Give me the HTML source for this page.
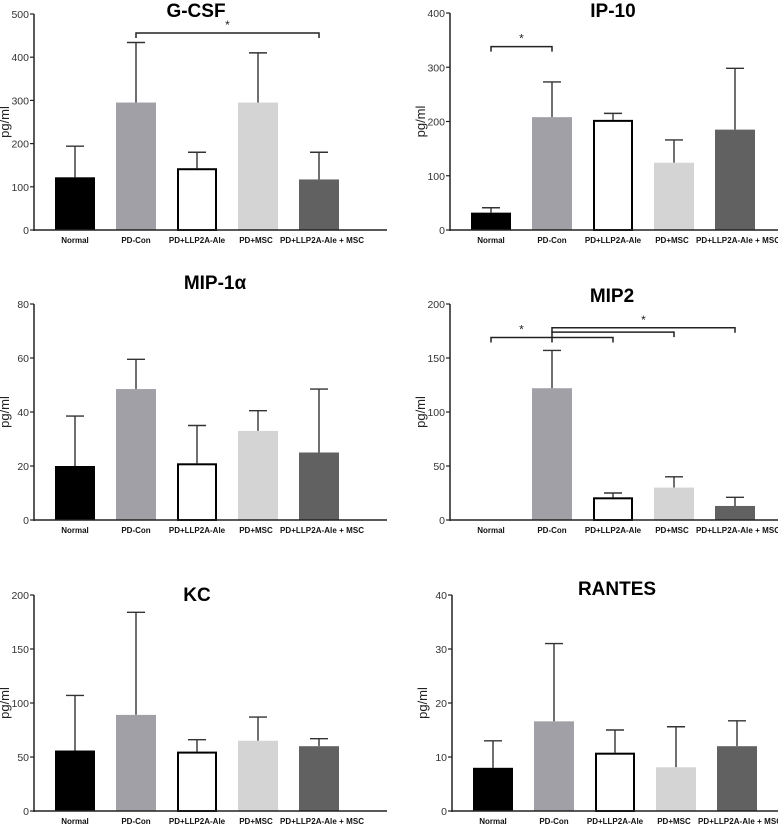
<!DOCTYPE html>
<html><head><meta charset="utf-8"><style>
body{margin:0;background:#fff;}
svg{display:block;font-family:"Liberation Sans",Arial,sans-serif;}
</style></head><body>
<svg id="chart" width="778" height="824" viewBox="0 0 778 824"></svg>
<script>
const categories = ["Normal","PD-Con","PD+LLP2A-Ale","PD+MSC","PD+LLP2A-Ale + MSC"];
const gcsfMeans = [122,295,143,295,117];
const gcsfErr = [194,434,180,410,180];
const ip10Means = [32,208,203,124,185];
const ip10Err = [41,273,215,166,298];
const mip1Means = [20,48.5,21,33,25];
const mip1Err = [38.5,59.5,35,40.5,48.5];
const mip2Means = [0,122,21,30,13];
const mip2Err = [0,157,25,40,21];
const kcMeans = [56,89,55,65,60];
const kcErr = [107,184,66,87,67];
const rantesMeans = [8,16.6,10.8,8.1,12];
const rantesErr = [13,31,15,15.6,16.7];
const gcsfTicks = [0,100,200,300,400,500];
const ip10Ticks = [0,100,200,300,400];
const mip1Ticks = [0,20,40,60,80];
const mip2Ticks = [0,50,100,150,200];
const kcTicks = [0,50,100,150,200];
const rantesTicks = [0,10,20,30,40];
const gcsfSig = [[1,4,456]];
const ip10Sig = [[0,1,338]];
const mip2Sig = [[0,2,169],[1,3,174],[1,4,178]];

const colors = ["#000000","#a0a0a6","#ffffff","#d4d4d4","#616161"];
const NS = "http://www.w3.org/2000/svg";
const svg = document.getElementById("chart");
function mk(tag, attrs, parent){const e=document.createElementNS(NS,tag);for(const k in attrs)e.setAttribute(k,attrs[k]);(parent||svg).appendChild(e);return e;}

function panel(key,title,means,errs,ticks,sig,ax,top,bot,titleX,titleY){
  const g=mk("g",{});
  
  
  const max=ticks[ticks.length-1];
  const y=v=>bot-(v/max)*(bot-top);
  const x=i=>ax+41+61*i;
  const t=mk("text",{x:titleX,y:titleY,"text-anchor":"middle","font-size":"19","font-weight":"bold",fill:"#000"},g);
  t.textContent=title;
  
  
  const yl=mk("text",{transform:`translate(${ax-25},${(top+bot)/2}) rotate(-90)`,"text-anchor":"middle","font-size":"13",fill:"#222"},g);
  yl.textContent="pg/ml";
  
  
  ticks.forEach(tv=>{
    mk("line",{x1:ax-4,x2:ax,y1:y(tv),y2:y(tv),stroke:"#222","stroke-width":1.2},g);
    const tl=mk("text",{x:ax-5,y:y(tv)+4,"text-anchor":"end","font-size":"10.5",fill:"#333"},g);
    tl.textContent=tv;
    
    
  });
  means.forEach((m,i)=>{
    const cx=x(i);
    if(errs[i]>m){
      mk("line",{x1:cx,x2:cx,y1:y(m),y2:y(errs[i]),stroke:"#333","stroke-width":1.4},g);
      mk("line",{x1:cx-9,x2:cx+9,y1:y(errs[i]),y2:y(errs[i]),stroke:"#333","stroke-width":1.4},g);
    }
    if(m>0){
      const isW=i===2;
      const r=mk("rect",{x:cx-20+(isW?1:0),y:y(m)+(isW?1:0),width:40-(isW?2:0),height:Math.max(0,bot-y(m)-(isW?1:0)),fill:colors[i],stroke:isW?"#000":"none","stroke-width":isW?2:0},g);
      
      
    }
    const cl=mk("text",{x:cx+(i===3?-2:i===4?3:0),y:bot+13,"text-anchor":"middle","font-size":"8","font-weight":"bold",fill:"#111","textLength":i===4?84:null},g);
    if(i!==4) cl.removeAttribute("textLength");
    cl.textContent=categories[i];
    
    
  });
  mk("line",{x1:ax,x2:ax,y1:top,y2:bot+1,stroke:"#222","stroke-width":1.5},g);
  mk("line",{x1:ax,x2:ax+353,y1:bot,y2:bot,stroke:"#222","stroke-width":1.5},g);
  sig.forEach((s,k)=>{
    const a=x(s[0]),b=x(s[1]),yy=y(s[2]);
    mk("path",{d:`M${a},${yy+5}V${yy}H${b}V${yy+5}`,fill:"none",stroke:"#222","stroke-width":1.5},g);
    if(key==="mip2"&&s[0]===0) mk("line",{x1:x(1),x2:x(1),y1:yy,y2:yy+5,stroke:"#222","stroke-width":1.5},g);
    if(!(key==="mip2"&&k===1)){
      const sx = key==="mip2" ? (k===0?(a+x(1))/2:(x(1)+b)/2) : (a+b)/2;
      const st=mk("text",{x:sx,y:yy,"text-anchor":"middle","font-size":"12",fill:"#222"},g);
      st.setAttribute("y", yy-4);
      st.textContent="*";
      
      
    }
  });
}
panel("gcsf","G-CSF",gcsfMeans,gcsfErr,gcsfTicks,gcsfSig,34,14,230,196,17);
panel("ip10","IP-10",ip10Means,ip10Err,ip10Ticks,ip10Sig,450,13,230,613,17);
panel("mip1a","MIP-1α",mip1Means,mip1Err,mip1Ticks,[],34,304,520,215,289);
panel("mip2","MIP2",mip2Means,mip2Err,mip2Ticks,mip2Sig,450,304,520,612,302);
panel("kc","KC",kcMeans,kcErr,kcTicks,[],34,595,811,197,601);
panel("rantes","RANTES",rantesMeans,rantesErr,rantesTicks,[],452,595,811,617,595);
</script>
</body></html>
